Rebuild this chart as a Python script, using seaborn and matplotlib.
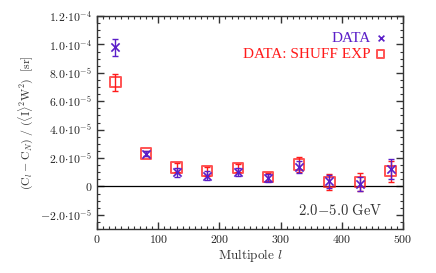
import numpy as np
import matplotlib
matplotlib.use("Agg")
import matplotlib.pyplot as plt
import seaborn as sns
import pandas as pd

# -----------------------------
# DATA
# -----------------------------
multipole = [30, 80, 130, 180, 230, 280, 330, 380, 430, 480]

data_val = [9.82e-5, 2.32e-5, 1.00e-5, 0.77e-5, 1.03e-5, 0.60e-5, 1.38e-5, 0.37e-5, 0.20e-5, 1.20e-5]
data_err = [0.60e-5, 0.15e-5, 0.30e-5, 0.30e-5, 0.30e-5, 0.30e-5, 0.40e-5, 0.45e-5, 0.50e-5, 0.70e-5]

shuff_val = [7.35e-5, 2.32e-5, 1.33e-5, 1.07e-5, 1.30e-5, 0.68e-5, 1.54e-5, 0.30e-5, 0.33e-5, 1.07e-5]
shuff_err = [0.60e-5, 0.20e-5, 0.30e-5, 0.30e-5, 0.30e-5, 0.30e-5, 0.50e-5, 0.55e-5, 0.65e-5, 0.75e-5]

ytick_vals = [-2e-5, 0, 2e-5, 4e-5, 6e-5, 8e-5, 1e-4, 1.2e-4]
ytick_labels = [r"$-2.0{\cdot}10^{-5}$", r"$0$", r"$2.0{\cdot}10^{-5}$", r"$4.0{\cdot}10^{-5}$",
                r"$6.0{\cdot}10^{-5}$", r"$8.0{\cdot}10^{-5}$", r"$1.0{\cdot}10^{-4}$",
                r"$1.2{\cdot}10^{-4}$"]

purple = "#5a1ec8"
red = "#ff1a1a"

df = pd.DataFrame({"l": multipole, "data": data_val, "shuff": shuff_val})

# -----------------------------
# STYLE
# -----------------------------
sns.set_style("ticks")
plt.rcParams["mathtext.fontset"] = "cm"
plt.rcParams["font.family"] = ["Liberation Serif", "DejaVu Serif"]

fig = plt.figure(figsize=(4.36, 2.73), dpi=100)
ax = fig.add_axes([0.2225, 0.161, 0.7015, 0.78])

# shuffled exposure (red squares)
ax.errorbar(df["l"], df["shuff"], yerr=shuff_err, fmt="none", ecolor=red,
            elinewidth=1.0, capsize=2.5, capthick=1.0, zorder=2)
sns.scatterplot(data=df, x="l", y="shuff", ax=ax, marker="s", s=55,
                facecolor="none", edgecolor=red, linewidth=1.4, alpha=0.75,
                zorder=3, label="DATA: SHUFF EXP")

# data (purple crosses)
ax.errorbar(df["l"], df["data"], yerr=data_err, fmt="none", ecolor=purple,
            elinewidth=1.0, capsize=2.5, capthick=1.0, zorder=4)
sns.scatterplot(data=df, x="l", y="data", ax=ax, marker="x", s=35,
                color=purple, linewidth=1.2, zorder=5, label="DATA")

ax.axhline(0, color="black", lw=0.9, zorder=1)

ax.set_xlim(0, 500)
ax.set_ylim(-3e-5, 1.2e-4)
ax.set_xticks([0, 100, 200, 300, 400, 500])
ax.set_xticklabels([r"$%d$" % v for v in [0, 100, 200, 300, 400, 500]])
ax.set_xticks(np.arange(0, 501, 10), minor=True)
ax.set_yticks(ytick_vals)
ax.set_yticklabels(ytick_labels)
ax.set_yticks(np.arange(-3e-5, 1.21e-4, 0.5e-5), minor=True)

ax.tick_params(which="both", direction="in", top=True, right=True,
               colors="#333333", labelcolor="#222222", labelsize=8.5)
ax.tick_params(which="major", length=5, width=1.0)
ax.tick_params(which="minor", length=2.5, width=0.8)
for sp in ax.spines.values():
    sp.set_linewidth(1.0)
    sp.set_color("#333333")

ax.set_xlabel(r"$\mathrm{Multipole}\ l$", fontsize=9.5, color="#333333", labelpad=1)
ax.set_ylabel(r"$(\mathrm{C}_l - \mathrm{C}_N)\ /\ (\langle\mathrm{I}\rangle^2\mathrm{W}^2)\ \ [\mathrm{sr}]$",
              fontsize=8.5, color="#333333", labelpad=4)

ax.text(466, -1.7e-5, r"$2.0\!-\!5.0\ \mathrm{GeV}$", fontsize=10.5,
        color="#333333", ha="right", va="center")

handles, labels = ax.get_legend_handles_labels()
leg = ax.legend(handles[::-1], labels[::-1], loc="upper right", frameon=False,
                markerfirst=False, fontsize=11, handletextpad=0.2,
                handlelength=0.9, markerscale=0.7,
                labelspacing=0.15, borderaxespad=0.6, labelcolor=[purple, red])

fig.savefig("out.png", dpi=100)
